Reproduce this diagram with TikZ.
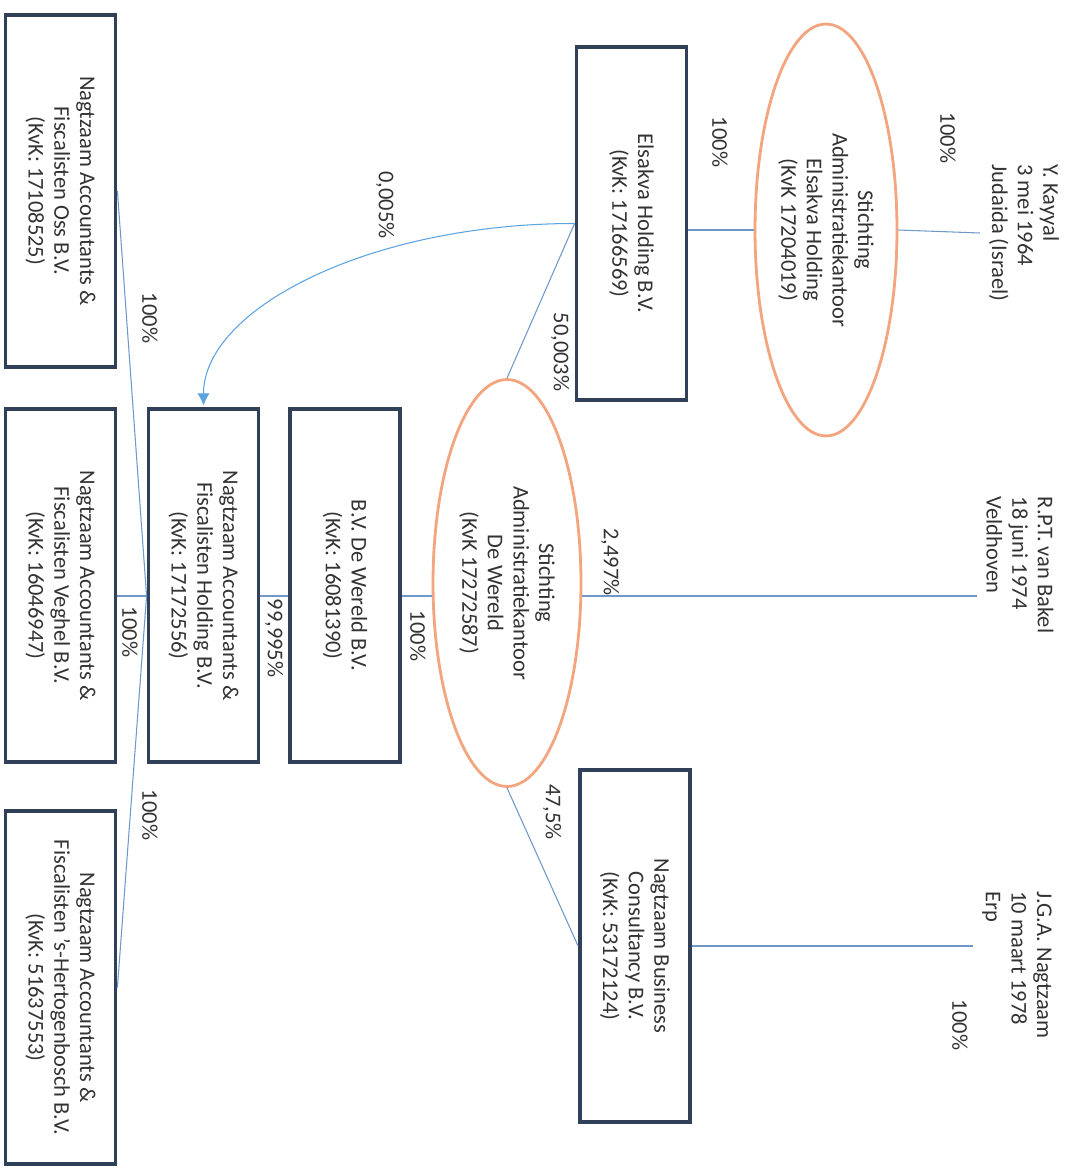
\documentclass[tikz,border=0pt]{standalone}
\usepackage{fontspec}
\setmainfont{Carlito}
\usetikzlibrary{shapes.geometric,arrows.meta}

\definecolor{boxblue}{HTML}{2F4058}
\definecolor{stakorange}{HTML}{F2A57E}
\definecolor{linkblue}{HTML}{6E98C8}
\definecolor{arrowblue}{HTML}{5BA3E0}
\definecolor{textgray}{HTML}{333333}

\begin{document}
\begin{tikzpicture}[x=0.02cm,y=-0.02cm,
  font=\fontsize{12.8}{14.6}\selectfont,text=textgray,
  bv/.style={draw=boxblue,line width=2.2pt,rotate=-90,minimum width=7.05cm,minimum height=2.2cm,align=center,inner sep=0pt},
  stak/.style={ellipse,draw=stakorange,line width=1.6pt,rotate=-90,align=center,inner sep=0pt},
  person/.style={rotate=-90,align=left,inner sep=5pt},
  pct/.style={rotate=-90,inner sep=0pt},
  link/.style={draw=linkblue,line width=0.6pt}]
\useasboundingbox (0,0) rectangle (1072,1168);

%boxes
\node[bv] (elsakva) at (631.5,223.5) {Elsakva Holding B.V.\\(KvK: 17166569)};
\node[bv] (consultancy) at (635,946) {Nagtzaam Business\\Consultancy B.V.\\(KvK: 53172124)};
\node[bv] (dewereld) at (345,585.5) {B.V. De Wereld B.V.\\(KvK: 16081390)};
\node[bv] (holding) at (203.5,585.5) {Nagtzaam Accountants \&\\Fiscalisten Holding B.V.\\(KvK: 17172556)};
\foreach \y/\name/\town/\kvk in {191/oss/Oss/17108525,585.5/veghel/Veghel/16046947,987.5/bosch/’s-Hertogenbosch/51637553} {
  \node[bv] (\name) at (60.5,\y) {Nagtzaam Accountants \&\\Fiscalisten \town{} B.V.\\(KvK: \kvk)};
}

%ellipses
\node[stak,minimum width=8.24cm,minimum height=2.84cm] (stakElsakva) at (826,230) {Stichting\\Administratiekantoor\\Elsakva Holding\\(KvK 17204019)};
\node[stak,minimum width=8.14cm,minimum height=2.96cm] (stakWereld) at (507,583) {Stichting\\Administratiekantoor\\De Wereld\\(KvK 17272587)};

%persons
\node[person] (kayyal) at (1024,233) {Y. Kayyal\\3 mei 1964\\Judaida (Israel)};
\node[person] (bakel) at (1020,565) {R.P.T. van Bakel\\18 juni 1974\\Veldhoven};
\node[person] (nagtzaam) at (1017,965) {J.G.A. Nagtzaam\\10 maart 1978\\Erp};

%lines
\coordinate (lineWereld) at (0,596);
\coordinate (hub) at (holding.south |- lineWereld);
\draw[link] (kayyal.south) -- (stakElsakva.north);
\draw[link] (stakElsakva.south) -- (stakElsakva.south -| elsakva.north);
\draw[link] (elsakva.south) -- (stakWereld.west);
\draw[link,draw=arrowblue,-{Latex[length=7pt,width=7pt]},shorten >=1pt] (elsakva.south) .. controls +(-204,0) and +(0,-99) .. (holding.west);
\draw[link] (bakel.south |- lineWereld) -- (stakWereld.north |- lineWereld);
\draw[link] (stakWereld.south |- lineWereld) -- (dewereld.north |- lineWereld);
\draw[link] (dewereld.south |- lineWereld) -- (holding.north |- lineWereld);
\draw[link] (stakWereld.east) -- (consultancy.south);
\draw[link] (nagtzaam.south |- consultancy.north) -- (consultancy.north);
\draw[link] (oss.north) -- (hub) -- (bosch.north);
\draw[link] (veghel.north |- hub) -- (hub);

%labels
\node[pct] at (948,138) {100\%};
\node[pct] at (720,142) {100\%};
\node[pct] at (385,205) {0,005\%};
\node[pct] at (560,352) {50,003\%};
\node[pct] at (150,318) {100\%};
\node[pct] at (610,562) {2,497\%};
\node[pct] at (418,636) {100\%};
\node[pct] at (274,638) {99,995\%};
\node[pct] at (130,632) {100\%};
\node[pct] at (150,815) {100\%};
\node[pct] at (552,812) {47,5\%};
\node[pct] at (960,1025) {100\%};
\end{tikzpicture}
\end{document}
